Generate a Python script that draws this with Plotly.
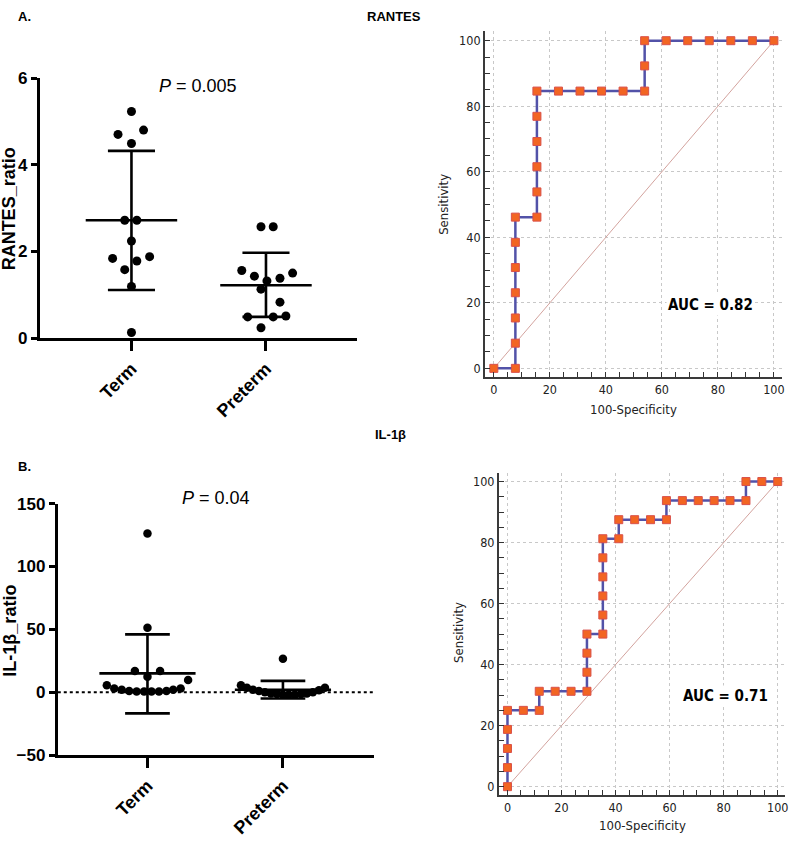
import plotly.graph_objects as go

W, H = 791, 843

# ---------------- Data ----------------
categories = ["Term", "Preterm"]
cat_pos = [0, 1]

# Panel A: RANTES ratio (dot plot with mean ± SD)
rantes_term_y = [5.23, 4.70, 4.80, 4.49, 2.72, 2.72, 2.24, 1.84, 1.78, 1.88, 1.58, 1.19, 0.13]
rantes_term_dx = [0, -0.10, 0.09, 0, -0.05, 0.04, 0, -0.14, 0.04, 0.135, -0.05, 0, 0]
rantes_pre_y = [2.57, 2.57, 1.56, 1.43, 1.32, 1.38, 1.50, 1.13, 0.83, 0.49, 0.49, 0.51, 0.24]
rantes_pre_dx = [-0.037, 0.054, -0.18, -0.086, 0.007, 0.104, 0.198, -0.037, 0.104, -0.136, 0.054, 0.148, -0.037]
rantes_mean = [2.72, 1.22]
rantes_sd_hi = [4.32, 1.97]
rantes_sd_lo = [1.11, 0.49]
rantes_yticks = [0, 2, 4, 6]

# Panel A: RANTES ROC curve
roc_a_x = [0, 7.69, 7.69, 7.69, 7.69, 7.69, 7.69, 7.69, 15.38, 15.38, 15.38, 15.38, 15.38, 15.38,
           23.08, 30.77, 38.46, 46.15, 53.85, 53.85, 53.85, 61.54, 69.23, 76.92, 84.62, 92.31, 100]
roc_a_y = [0, 0, 7.69, 15.38, 23.08, 30.77, 38.46, 46.15, 46.15, 53.85, 61.54, 69.23, 76.92, 84.62,
           84.62, 84.62, 84.62, 84.62, 84.62, 92.31, 100, 100, 100, 100, 100, 100, 100]

# Panel B: IL-1beta ratio
il_term_y = [126.2, 51.2, 16.8, 16.8, 12.4, 9.8, 5.5, 3.0, 2.0, 1.0, 0.5, 0.5, 0.5, 0.5, 1.0, 2.0, 3.0]
il_term_dx = [0, 0, -0.093, 0.093, 0, 0.30, -0.30, -0.245, -0.19, -0.135, -0.08, -0.025, 0.03, 0.085, 0.14, 0.19, 0.245]
il_pre_y = [26.6, 5.5, 3.5, 2.0, 1.0, 0.0, -1.0, -1.5, -2.0, -2.0, -2.0, -1.5, -1.0, 0.0, 1.5, 3.5]
il_pre_dx = [0, -0.31, -0.266, -0.221, -0.177, -0.133, -0.089, -0.044, 0, 0.044, 0.089, 0.133, 0.177, 0.221, 0.266, 0.31]
il_mean = [15.0, 2.0]
il_sd_hi = [46.0, 9.0]
il_sd_lo = [-16.8, -5.0]
il_yticks = [-50, 0, 50, 100, 150]

# Panel B: IL-1beta ROC curve
roc_b_x = [0, 0, 0, 0, 0, 5.88, 11.76, 11.76, 17.65, 23.53, 29.41, 29.41, 29.41, 29.41, 35.29, 35.29,
           35.29, 35.29, 35.29, 35.29, 41.18, 41.18, 47.06, 52.94, 58.82, 58.82, 64.71, 70.59, 76.47,
           82.35, 88.24, 88.24, 94.12, 100]
roc_b_y = [0, 6.25, 12.5, 18.75, 25, 25, 25, 31.25, 31.25, 31.25, 31.25, 37.5, 43.75, 50, 50, 56.25,
           62.5, 68.75, 75, 81.25, 81.25, 87.5, 87.5, 87.5, 87.5, 93.75, 93.75, 93.75, 93.75, 93.75,
           93.75, 100, 100, 100]

diag_x = [0, 100]
diag_y = [0, 100]
roc_ticks = [0, 20, 40, 60, 80, 100]

# ---------------- Styles ----------------
ARIAL = "Liberation Sans, Arial, sans-serif"
NARROW = "Liberation Sans Narrow, DejaVu Sans Condensed, Roboto, Liberation Sans, sans-serif"
ROC_LINE = "#5252A8"
ROC_FILL = "#F26522"
ROC_EDGE = "#D9504A"
DIAG = "#D3A39E"


def px_x(p):
    return p / W


def px_y(p):
    return 1 - p / H


fig = go.Figure()


def add_dotplot(xa, ya, term_y, term_dx, pre_y, pre_dx, mean, hi, lo, msize, cap_w, mean_w):
    # error bars (mean ± SD)
    ex, ey = [], []
    for i, p in enumerate(cat_pos):
        ex += [p, p, None, p - cap_w, p + cap_w, None, p - cap_w, p + cap_w, None,
               p - mean_w, p + mean_w, None]
        ey += [lo[i], hi[i], None, hi[i], hi[i], None, lo[i], lo[i], None,
               mean[i], mean[i], None]
    fig.add_trace(go.Scatter(x=ex, y=ey, mode="lines", line=dict(color="black", width=2.6),
                             xaxis=xa, yaxis=ya, hoverinfo="skip", cliponaxis=False))
    xs = [cat_pos[0] + d for d in term_dx] + [cat_pos[1] + d for d in pre_dx]
    ys = list(term_y) + list(pre_y)
    fig.add_trace(go.Scatter(x=xs, y=ys, mode="markers",
                             marker=dict(color="black", size=msize),
                             xaxis=xa, yaxis=ya, cliponaxis=False))


def add_roc(xa, ya, rx, ry):
    fig.add_trace(go.Scatter(x=diag_x, y=diag_y, mode="lines", line=dict(color=DIAG, width=1),
                             xaxis=xa, yaxis=ya, hoverinfo="skip"))
    fig.add_trace(go.Scatter(x=rx, y=ry, mode="lines+markers",
                             line=dict(color=ROC_LINE, width=2.5),
                             marker=dict(symbol="square", size=8, color=ROC_FILL,
                                         line=dict(color=ROC_EDGE, width=1)),
                             xaxis=xa, yaxis=ya, cliponaxis=False))


add_dotplot("x", "y", rantes_term_y, rantes_term_dx, rantes_pre_y, rantes_pre_dx,
            rantes_mean, rantes_sd_hi, rantes_sd_lo, 9, 0.175, 0.34)
add_roc("x2", "y2", roc_a_x, roc_a_y)
add_dotplot("x3", "y3", il_term_y, il_term_dx, il_pre_y, il_pre_dx,
            il_mean, il_sd_hi, il_sd_lo, 8.5, 0.165, 0.355)
add_roc("x4", "y4", roc_b_x, roc_b_y)

dot_x_common = dict(tickmode="array", tickvals=cat_pos, ticktext=categories, tickangle=-45,
                    ticks="outside", ticklen=10, tickwidth=3, tickcolor="black",
                    showline=True, linewidth=3, linecolor="black", showgrid=False, zeroline=False,
                    tickfont=dict(family=ARIAL, size=18, color="black", weight="bold"))
dot_y_common = dict(ticks="outside", ticklen=6, tickwidth=3, tickcolor="black",
                    showline=True, linewidth=3, linecolor="black", showgrid=False, zeroline=False,
                    tickfont=dict(family=ARIAL, size=17, color="black", weight="bold"))

roc_common = dict(tickmode="array", tickvals=roc_ticks, ticks="inside", ticklen=5, tickwidth=1.2,
                  tickcolor="#333333", showline=True, linewidth=2.2, linecolor="#3a3a3a",
                  showgrid=True, gridcolor="#c8c8c8", griddash="dot", gridwidth=1, zeroline=False,
                  minor=dict(dtick=5, tick0=0, ticks="inside", ticklen=5, tickwidth=1.2,
                             tickcolor="#333333", showgrid=False),
                  tickfont=dict(family=NARROW, size=12.5, color="#222222"))

fig.update_layout(
    width=W, height=H, margin=dict(l=0, r=0, t=0, b=0),
    paper_bgcolor="white", plot_bgcolor="white", showlegend=False,
    xaxis=dict(domain=[px_x(40), px_x(358)], range=[-0.681, 1.674], anchor="y", **dot_x_common),
    yaxis=dict(domain=[px_y(336.7), px_y(70.7)], range=[0, 6], tickvals=rantes_yticks,
               anchor="x", **dot_y_common),
    xaxis2=dict(domain=[px_x(487), px_x(785)], range=[-3.1, 102.9], anchor="y2", **roc_common),
    yaxis2=dict(domain=[px_y(376.7), px_y(22.7)], range=[-2.7, 102.9], anchor="x2", **roc_common),
    xaxis3=dict(domain=[px_x(58), px_x(375)], range=[-0.662, 1.669], anchor="y3", **dot_x_common),
    yaxis3=dict(domain=[px_y(763.3), px_y(506)], range=[-50, 150], tickvals=il_yticks,
                anchor="x3", **dot_y_common),
    xaxis4=dict(domain=[px_x(501), px_x(788)], range=[-3.1, 102.7], anchor="y4", **roc_common),
    yaxis4=dict(domain=[px_y(804), px_y(475)], range=[-2.7, 102.7], anchor="x4", **roc_common),
)

# dotted zero line in panel B dot plot
fig.add_shape(type="line", xref="x3 domain", yref="y3", x0=0, x1=1, y0=0, y1=0,
              line=dict(color="black", width=2, dash="dot"), layer="below")

anns = []


def paper_text(text, x, y, size, bold=False, angle=0, family=ARIAL, color="black"):
    anns.append(dict(text=text, x=px_x(x), y=px_y(y), xref="paper", yref="paper",
                     showarrow=False, xanchor="center", yanchor="middle", textangle=angle,
                     font=dict(family=family, size=size, color=color,
                               weight="bold" if bold else "normal")))


paper_text("A.", 25, 8, 13, bold=True)
paper_text("RANTES", 395, 8, 13, bold=True)
paper_text("IL-1β", 392, 435, 13, bold=True)
paper_text("B.", 25, 468, 13, bold=True)
paper_text("<i>P</i> = 0.005", 199, 79, 18)
paper_text("<i>P</i> = 0.04", 217, 500, 18)
paper_text("RANTES_ratio", 9, 204, 18, bold=True, angle=-90)
paper_text("IL-1β_ratio", 10, 636, 18, bold=True, angle=-90)
paper_text("100-Specificity", 636, 410, 13, family=NARROW, color="#222222")
paper_text("Sensitivity", 445, 200, 13, family=NARROW, color="#222222", angle=-90)
paper_text("100-Specificity", 645, 835, 13, family=NARROW, color="#222222")
paper_text("Sensitivity", 460, 638, 13, family=NARROW, color="#222222", angle=-90)

anns.append(dict(text="AUC = 0.82", x=77.3, y=19.3, xref="x2", yref="y2", showarrow=False,
                 bgcolor="white", font=dict(family=NARROW, size=15, color="black", weight="bold")))
anns.append(dict(text="AUC = 0.71", x=80.7, y=29.8, xref="x4", yref="y4", showarrow=False,
                 bgcolor="white", font=dict(family=NARROW, size=15, color="black", weight="bold")))

fig.update_layout(annotations=anns)

fig.write_html(
    "out.html",
    config={"displayModeBar": False},
    post_script="document.body.style.margin='0';document.body.style.padding='0';"
                "document.documentElement.style.overflow='hidden';",
)
